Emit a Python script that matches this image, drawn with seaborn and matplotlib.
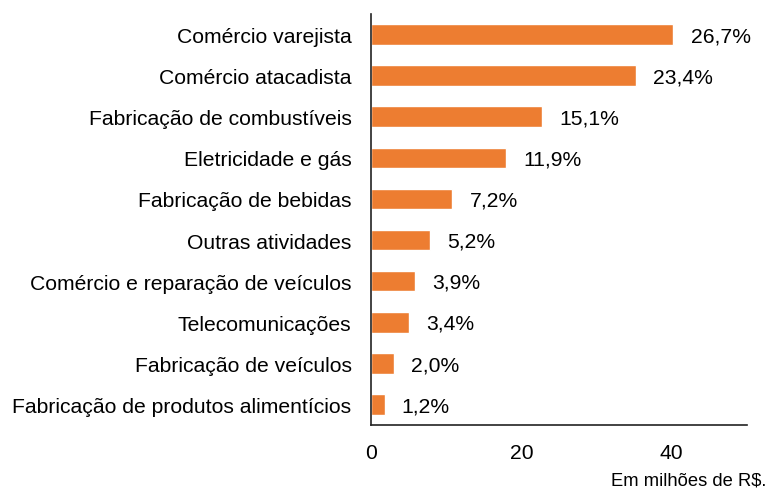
import matplotlib
matplotlib.use("Agg")
import matplotlib.pyplot as plt
import seaborn as sns
import pandas as pd

categories = [
    "Comércio varejista",
    "Comércio atacadista",
    "Fabricação de combustíveis",
    "Eletricidade e gás",
    "Fabricação de bebidas",
    "Outras atividades",
    "Comércio e reparação de veículos",
    "Telecomunicações",
    "Fabricação de veículos",
    "Fabricação de produtos alimentícios",
]
values = [40.2, 35.2, 22.7, 17.9, 10.8, 7.8, 5.9, 5.1, 3.0, 1.8]
pct_labels = ["26,7%", "23,4%", "15,1%", "11,9%", "7,2%", "5,2%", "3,9%", "3,4%", "2,0%", "1,2%"]
x_ticks = [0, 20, 40]

df = pd.DataFrame({"cat": categories, "val": values})

sns.set_theme(style="white")
plt.rcParams["font.family"] = ["Liberation Sans", "DejaVu Sans"]

fig = plt.figure(figsize=(7.67, 4.89), dpi=100)
ax = fig.add_axes([371 / 767, 1 - 426 / 489, (747 - 371) / 767, (426 - 15) / 489])

sns.barplot(data=df, x="val", y="cat", color="#ED7D31", saturation=1,
            width=0.5, ax=ax, orient="h")

fs = 15.2
for i, (v, lab) in enumerate(zip(values, pct_labels)):
    ax.text(v + 2.3, i + 0.03, lab, va="center", ha="left", fontsize=fs, color="#000000")

ax.set_xlim(0, 50)
ax.set_ylim(9.5, -0.5)
ax.set_xticks(x_ticks)
ax.set_xticklabels([str(t) for t in x_ticks])
ax.set_xlabel("")
ax.set_ylabel("")
ax.tick_params(axis="x", direction="in", length=4.5, width=1, color="#222222",
               pad=13, labelsize=fs, labelcolor="#000000")
ax.tick_params(axis="y", length=0, pad=14, labelsize=fs, labelcolor="#000000")

for s in ["top", "right"]:
    ax.spines[s].set_visible(False)
for s in ["left", "bottom"]:
    ax.spines[s].set_color("#222222")
    ax.spines[s].set_linewidth(1.2)

fig.text(766 / 767, 1 - 481 / 489, "Em milhões de R$.", ha="right", va="center",
         fontsize=13.2, color="#000000")

fig.savefig("out.png", dpi=100)
